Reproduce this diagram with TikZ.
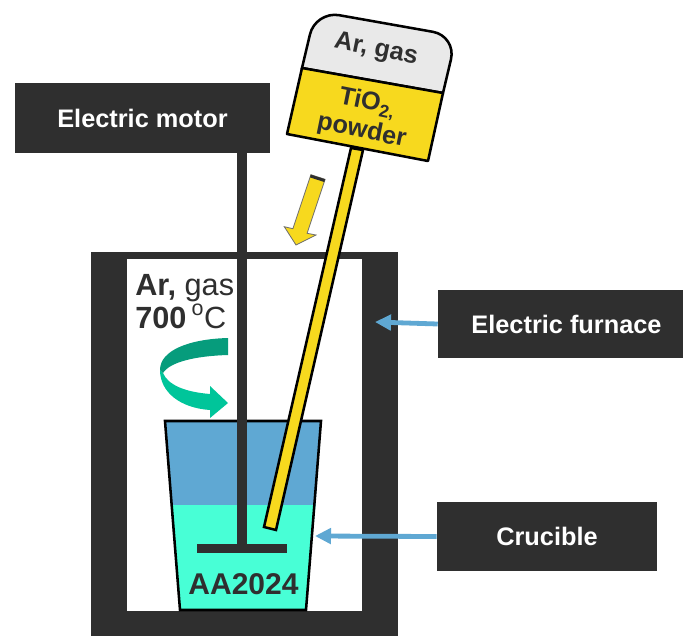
\documentclass[tikz,border=0pt]{standalone}
\usepackage{fontspec}
\setmainfont{Liberation Sans}
\usetikzlibrary{arrows.meta}
\definecolor{darkbox}{HTML}{2F2F2F}
\definecolor{meltblue}{HTML}{5FA8D3}
\definecolor{melt}{HTML}{48FFD6}
\definecolor{powder}{HTML}{F7D91E}
\definecolor{gasgray}{HTML}{E9E9E9}
\definecolor{turndark}{HTML}{069C7C}
\definecolor{turnlight}{HTML}{00C59A}
\begin{document}
\begin{tikzpicture}
	[x=0.75pt,y=-0.75pt,
	DarkBox/.style={fill=darkbox,text=white,inner sep=0pt,font=\bfseries\fontsize{19}{22}\selectfont},
	CupLine/.style={draw=black,line width=1.9pt,line join=miter},
	PartText/.style={text=darkbox,inner sep=0pt,font=\bfseries\fontsize{19}{22}\selectfont},
	LabelText/.style={text=darkbox,inner sep=0pt,anchor=base west,font=\fontsize{23}{26}\selectfont},
	BlueArrow/.style={draw=meltblue,line width=3.6pt,-{Triangle[length=12pt,width=11.5pt]}}]

	\useasboundingbox (0,0) rectangle (683,636);

	% furnace
	\fill[darkbox] (91,252) rectangle (398,636);
	\fill[white] (127,259) rectangle (362,611);

	% crucible
	\fill[meltblue] (165,421) -- (321,421) -- (315.5,505) -- (171,505) -- cycle;
	\fill[melt] (171,505) -- (315.5,505) -- (306,610) -- (180,610) -- cycle;
	\draw[CupLine] (165,421) -- (321,421) -- (306,610) -- (180,610) -- cycle;
	\node[text=darkbox,inner sep=0pt,font=\bfseries\fontsize{22.5}{26}\selectfont] (melt_name) at (243.5,584){AA2024};

	% stirrer
	\node[DarkBox,minimum width=255*0.75pt,minimum height=70*0.75pt] (motor) at (142.5,118){Electric motor};
	\fill[darkbox] (237,153) rectangle (247,545);
	\fill[darkbox] (197,544) rectangle (287,553);

	% feed tube
	\draw[fill=powder,draw=black,line width=1.9pt] (264,527) -- (276,530) -- (363,150) -- (351,148) -- cycle;

	% hopper
	\draw[fill=gasgray,draw=black,line width=1.9pt] (302,68) [rounded corners=18pt] -- (315.5,11) -- (456.5,36) [sharp corners] -- (443,93) -- cycle;
	\draw[fill=powder,draw=black,line width=1.9pt,line join=round] (302,68) -- (443,93) -- (428,161) -- (287,134) -- cycle;
	\node[PartText,rotate=-11.5] (gas_name) at (376,50){Ar, gas};
	\node[PartText,rotate=-11.5,align=center] (powder_name) at (364.5,117){TiO\textsubscript{2,}\\powder};

	% feed direction
	\draw[fill=powder,draw=darkbox!70,line width=0.6pt] (310.9,174.7) -- (325.1,179.3) -- (307.1,233.3) -- (316,235) -- (296,245) -- (284.3,226.7) -- (292.9,228.7) -- cycle;
	\fill[darkbox] (310.9,174.7) -- (325.1,179.3) -- (324.2,182) -- (310,177.4) -- cycle;

	% rotation
	\fill[turnlight] (160,370) .. controls (160,392) and (180,408) .. (210,410) -- (210,418) -- (228,403) -- (210,386) -- (210,394) .. controls (185,392) and (168,385) .. (163,373) -- cycle;
	\fill[turndark] (228,338) .. controls (190,339) and (160,350) .. (160,370) -- (163,373) .. controls (170,362) and (195,356) .. (228,355) -- cycle;

	% furnace atmosphere
	\node[LabelText] (gas_label) at (135,295){\textbf{Ar,} gas};
	\node[LabelText] (temp_label) at (135,328){\textbf{700}\,\textsuperscript{o}C};

	% labels on the right
	\node[DarkBox,minimum width=245*0.75pt,minimum height=68*0.75pt] (furnace) at (560.5,324){\hspace{9pt}Electric furnace};
	\node[DarkBox,minimum width=220*0.75pt,minimum height=69*0.75pt] (crucible) at (547,536.5){Crucible};
	\coordinate (furnace_end) at (375,322);
	\coordinate (crucible_end) at (315,536);
	\draw[BlueArrow] (furnace.west) -- (furnace_end);
	\draw[BlueArrow] (crucible.west) -- (crucible_end);
\end{tikzpicture}
\end{document}
